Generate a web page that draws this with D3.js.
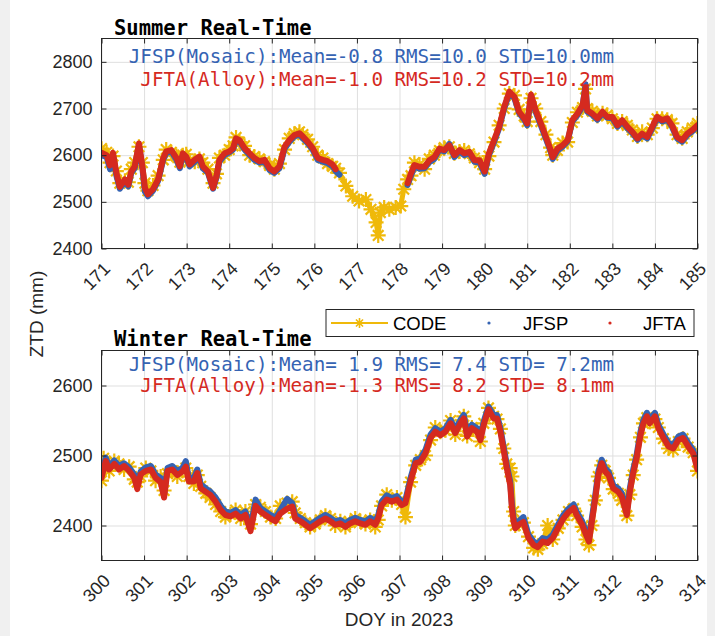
<!DOCTYPE html>
<html>
<head>
<meta charset="utf-8">
<script src="https://cdn.jsdelivr.net/npm/d3@7"></script>
<style>
  body { margin: 0; background: #f0f0f0; }
  svg { display: block; }
</style>
</head>
<body>
<script>
// ---- data (ZTD in mm, time in day of year) ----
var summerDays = [171.0,171.12,171.2,171.27,171.35,171.43,171.55,171.63,171.7,171.78,171.88,171.96,
  172.02,172.09,172.21,172.33,172.45,172.52,172.64,172.76,172.84,172.91,172.99,173.07,173.19,173.3,
  173.38,173.5,173.62,173.7,173.77,173.89,174.0,174.09,174.16,174.24,174.36,174.48,174.59,174.71,
  174.83,174.95,175.06,175.18,175.3,175.41,175.53,175.65,175.73,175.84,175.96,176.08,176.2,176.31,
  176.43,176.5,176.59,176.74,176.9,177.05,177.21,177.33,177.45,177.5,177.55,177.64,177.76,177.91,
  178.03,178.1,178.19,178.27,178.35,178.47,178.59,178.7,178.82,178.94,179.05,179.17,179.29,179.41,
  179.52,179.64,179.76,179.88,180.0,180.1,180.22,180.34,180.46,180.58,180.7,180.81,180.93,181.0,
  181.09,181.2,181.32,181.44,181.55,181.6,181.71,181.83,181.95,182.06,182.18,182.3,182.37,182.41,
  182.53,182.65,182.77,182.88,183.0,183.12,183.23,183.35,183.47,183.59,183.7,183.82,183.94,184.05,
  184.17,184.29,184.4,184.52,184.64,184.76,184.88,185.0];

var summerCode = [2614,2606,2584,2598,2566,2540,2545,2542,2570,2584,2618,2584,2540,2524,2535,2556,
  2590,2612,2606,2598,2585,2600,2602,2588,2586,2592,2584,2570,2540,2560,2594,2600,2612,2620,2638,
  2628,2620,2600,2597,2592,2586,2578,2570,2582,2612,2636,2646,2650,2644,2634,2618,2600,2594,2582,
  2576,2572,2562,2534,2512,2502,2505,2484,2456,2428,2477,2488,2484,2488,2491,2527,2548,2556,2584,
  2580,2570,2592,2600,2610,2616,2618,2604,2608,2610,2603,2594,2584,2570,2598,2628,2664,2700,2732,
  2728,2698,2684,2672,2722,2700,2672,2644,2616,2600,2610,2626,2628,2670,2692,2702,2742,2700,2694,
  2684,2690,2686,2678,2668,2672,2664,2654,2640,2650,2644,2658,2678,2678,2676,2668,2644,2636,2650,
  2658,2668];

var summerJfsp = [2600,2596,2570,2600,2556,2528,2544,2533,2562,2572,2622,2572,2522,2512,2524,2545,
  2590,2604,2608,2590,2572,2600,2594,2576,2586,2594,2572,2562,2528,2552,2586,2600,2606,2612,2633,
  2630,2612,2600,2590,2584,2586,2568,2562,2572,2614,2628,2640,2644,2636,2626,2612,2590,2586,2583,
  2576,2566,2558,null,null,null,null,null,null,null,null,null,null,null,null,null,2536,2556,2575,
  2571,2572,2585,2592,2612,2608,2624,2596,2608,2600,2604,2586,2584,2560,2600,2628,2658,2700,2733,
  2722,2690,2676,2664,2727,2692,2664,2635,2608,2592,2610,2618,2630,2672,2686,2704,2752,2693,2686,
  2676,2690,2680,2679,2661,2672,2658,2647,2633,2643,2636,2658,2679,2672,2676,2661,2636,2629,2643,
  2651,2661];

var summerJfta = [2605,2600,2578,2605,2562,2532,2548,2537,2565,2576,2625,2576,2530,2516,2527,2548,
  2594,2608,2611,2594,2576,2604,2597,2580,2590,2597,2576,2565,2530,2555,2590,2604,2608,2615,2636,
  2632,2615,2604,2594,2587,2590,2572,2565,2576,2618,2632,2643,2647,2640,2629,2615,2594,2590,2587,
  2580,2570,null,null,null,null,null,null,null,null,null,null,null,null,null,null,2540,2561,2579,
  2575,2575,2589,2596,2614,2611,2621,2600,2611,2604,2607,2589,2589,2565,2604,2632,2661,2704,2736,
  2725,2693,2679,2668,2730,2696,2668,2639,2611,2596,2614,2621,2632,2675,2689,2707,2745,2696,2689,
  2679,2693,2682,2682,2664,2675,2661,2650,2636,2646,2639,2661,2682,2675,2679,2664,2639,2632,2646,
  2654,2664];

var winterDays = [300.0,300.05,300.1,300.18,300.3,300.41,300.53,300.65,300.77,300.84,300.92,301.04,
  301.16,301.27,301.39,301.47,301.55,301.66,301.78,301.9,301.98,302.05,302.17,302.25,302.33,302.45,
  302.55,302.68,302.8,302.91,303.03,303.15,303.27,303.38,303.5,303.62,303.73,303.85,303.97,304.09,
  304.2,304.36,304.48,304.55,304.67,304.79,304.9,305.02,305.14,305.26,305.38,305.49,305.61,305.73,
  305.84,305.96,306.08,306.2,306.31,306.43,306.5,306.58,306.7,306.82,306.94,307.05,307.14,307.26,
  307.38,307.49,307.61,307.73,307.84,307.96,308.08,308.2,308.31,308.43,308.51,308.59,308.7,308.82,
  308.9,308.98,309.09,309.21,309.29,309.37,309.45,309.52,309.6,309.64,309.68,309.72,309.8,309.91,
  310.03,310.15,310.25,310.36,310.48,310.6,310.73,310.84,310.97,311.09,311.16,311.29,311.38,311.45,
  311.52,311.6,311.67,311.75,311.83,311.91,312.02,312.14,312.22,312.34,312.41,312.49,312.57,312.66,
  312.73,312.81,312.88,313.0,313.08,313.2,313.32,313.43,313.55,313.66,313.78,313.9,314.0];

var winterCode = [2464,2496,2490,2478,2492,2488,2480,2484,2466,2462,2470,2482,2478,2464,2470,2450,
  2474,2478,2470,2478,2482,2470,2460,2472,2456,2446,2440,2430,2420,2412,2416,2422,2410,2420,2402,
  2430,2426,2420,2412,2410,2428,2432,2434,2418,2410,2404,2398,2402,2408,2414,2410,2400,2406,2398,
  2404,2410,2406,2402,2408,2398,2408,2428,2444,2436,2440,2430,2412,2462,2486,2494,2500,2522,2540,
  2534,2536,2550,2530,2544,2556,2528,2540,2536,2520,2546,2568,2556,2552,2538,2510,2488,2482,2470,
  2420,2400,2402,2404,2384,2368,2366,2374,2400,2380,2396,2408,2420,2424,2414,2398,2380,2372,2400,
  2436,2470,2486,2478,2468,2452,2446,2436,2414,2444,2472,2494,2526,2546,2554,2548,2552,2540,2524,
  2510,2508,2520,2524,2512,2504,2478];

var winterJfsp = [2472,2485,2497,2484,2493,2485,2489,2483,2473,2458,2477,2483,2485,2473,2468,2446,
  2482,2485,2478,2482,2492,2468,2468,2480,2459,2453,2449,2440,2428,2420,2418,2422,2415,2420,2398,
  2437,2425,2420,2415,2411,2422,2438,2432,2415,2411,2406,2401,2406,2411,2415,2411,2406,2408,2403,
  2408,2411,2408,2406,2411,2406,2415,2434,2443,2439,2442,2434,2437,2468,2494,2496,2508,2530,2539,
  2534,2539,2551,2537,2551,2558,2532,2544,2539,2527,2549,2570,2558,2558,2539,2511,2487,2463,2430,
  2411,2402,2406,2412,2387,2377,2374,2382,2380,2387,2402,2414,2424,2430,2420,2406,2392,2382,2411,
  2444,2477,2494,2482,2477,2458,2453,2446,2420,2453,2480,2501,2534,2551,2561,2551,2561,2544,2530,
  2518,2515,2527,2530,2518,2508,2485];

var winterJfta = [2468,2480,2492,2480,2488,2480,2485,2478,2468,2452,2473,2478,2480,2468,2462,2440,
  2478,2480,2472,2477,2484,2463,2463,2475,2453,2448,2444,2434,2422,2415,2413,2417,2410,2415,2392,
  2428,2420,2415,2410,2406,2417,2424,2427,2410,2406,2401,2396,2401,2406,2410,2406,2401,2403,2398,
  2403,2406,2403,2401,2406,2401,2410,2429,2437,2434,2437,2429,2432,2463,2489,2491,2503,2525,2534,
  2529,2534,2546,2532,2546,2553,2527,2539,2534,2522,2544,2566,2553,2553,2534,2506,2482,2458,2425,
  2406,2396,2401,2405,2382,2372,2369,2377,2375,2382,2397,2409,2419,2425,2415,2401,2387,2377,2406,
  2439,2472,2489,2477,2472,2453,2448,2441,2415,2448,2475,2496,2529,2546,2556,2546,2556,2539,2525,
  2513,2510,2522,2525,2513,2503,2480];

var summerTicksY = [2400, 2500, 2600, 2700, 2800];
var winterTicksY = [2400, 2500, 2600];
var summerStats = ["JFSP(Mosaic):Mean=-0.8 RMS=10.0 STD=10.0mm", "JFTA(Alloy):Mean=-1.0 RMS=10.2 STD=10.2mm"];
var winterStats = ["JFSP(Mosaic):Mean= 1.9 RMS= 7.4 STD= 7.2mm", "JFTA(Alloy):Mean=-1.3 RMS= 8.2 STD= 8.1mm"];
var legendLabels = ["CODE", "JFSP", "JFTA"];

// ---- look ----
var svgWidth = 715, svgHeight = 636;
var plotLeft = 101.5, plotRight = 697.5;
var codeColor = "#efb90a", jfspColor = "#3563b3", jftaColor = "#d52a1f";
var axisColor = "#262626", gridColor = "#dfdfdf";
var sansFont = "'Liberation Sans', Arial, Helvetica, sans-serif";
var monoFont = "'DejaVu Sans Mono', monospace";

var svg = d3.select("body")
            .append("svg")
            .attr("width", svgWidth)
            .attr("height", svgHeight);

// white figure area, grey window border at the sides
svg.append("rect")
   .attr("x", 10).attr("y", 0)
   .attr("width", 697).attr("height", svgHeight)
   .attr("fill", "#ffffff");

// MATLAB style '*' marker
function asteriskPath(r) {
  var a = r * 0.707;
  return "M" + (-r) + ",0H" + r + "M0," + (-r) + "V" + r +
         "M" + (-a) + "," + (-a) + "L" + a + "," + a +
         "M" + (-a) + "," + a + "L" + a + "," + (-a);
}

function drawPanel(p) {
  var first = p.days[0], last = p.days[p.days.length - 1];
  var x = d3.scaleLinear().domain([first, last]).range([plotLeft, plotRight]);
  var y = d3.scaleLinear().domain(p.yDomain).range([p.bottom, p.top]);
  var w = plotRight - plotLeft, h = p.bottom - p.top;
  var xTicks = d3.range(first, last + 1);

  var g = svg.append("g");

  g.append("clipPath").attr("id", "clip-" + p.name)
   .append("rect")
   .attr("x", plotLeft).attr("y", p.top)
   .attr("width", w).attr("height", h);

  // grid lines
  var gx = g.append("g")
            .attr("transform", "translate(0," + p.bottom + ")")
            .call(d3.axisBottom(x).tickValues(xTicks).tickSize(-h).tickFormat(""));
  var gy = g.append("g")
            .attr("transform", "translate(" + plotLeft + ",0)")
            .call(d3.axisLeft(y).tickValues(p.yTicks).tickSize(-w).tickFormat(""));
  [gx, gy].forEach(function(s) {
    s.select(".domain").remove();
    s.selectAll("line").attr("stroke", gridColor).attr("stroke-width", 1);
  });

  // series
  var rows = p.days.map(function(d, i) {
    return { day: d, code: p.code[i], jfsp: p.jfsp[i], jfta: p.jfta[i] };
  });
  var plot = g.append("g").attr("clip-path", "url(#clip-" + p.name + ")");

  function lineFor(key) {
    return d3.line()
             .defined(function(d) { return d[key] != null; })
             .x(function(d) { return x(d.day); })
             .y(function(d) { return y(d[key]); });
  }

  plot.append("path").datum(rows)
      .attr("d", lineFor("code"))
      .attr("fill", "none").attr("stroke", codeColor)
      .attr("stroke-width", 5).attr("stroke-linejoin", "round");

  plot.selectAll(".code-mark")
      .data(rows)
      .enter()
      .append("path")
      .attr("class", "code-mark")
      .attr("transform", function(d) { return "translate(" + x(d.day) + "," + y(d.code) + ")"; })
      .attr("d", asteriskPath(7.5))
      .attr("fill", "none").attr("stroke", codeColor).attr("stroke-width", 2.2);

  plot.append("path").datum(rows)
      .attr("d", lineFor("jfsp"))
      .attr("fill", "none").attr("stroke", jfspColor)
      .attr("stroke-width", 6).attr("stroke-linejoin", "round").attr("stroke-linecap", "round");

  plot.append("path").datum(rows)
      .attr("d", lineFor("jfta"))
      .attr("fill", "none").attr("stroke", jftaColor)
      .attr("stroke-width", 6).attr("stroke-linejoin", "round").attr("stroke-linecap", "round");

  // axes with inward ticks on all four sides
  var bottomAxis = g.append("g")
                    .attr("transform", "translate(0," + p.bottom + ")")
                    .call(d3.axisBottom(x).tickValues(xTicks).tickSize(-5).tickSizeOuter(0)
                          .tickFormat(d3.format("d")));
  bottomAxis.selectAll("text")
            .attr("x", 0).attr("y", 0).attr("dy", "0.35em")
            .attr("transform", "translate(5,17) rotate(-45)")
            .attr("text-anchor", "end");

  var topAxis = g.append("g")
                 .attr("transform", "translate(0," + p.top + ")")
                 .call(d3.axisTop(x).tickValues(xTicks).tickSize(-5).tickSizeOuter(0).tickFormat(""));

  var leftAxis = g.append("g")
                  .attr("transform", "translate(" + plotLeft + ",0)")
                  .call(d3.axisLeft(y).tickValues(p.yTicks).tickSize(-5).tickSizeOuter(0)
                        .tickPadding(9).tickFormat(d3.format("d")));

  var rightAxis = g.append("g")
                   .attr("transform", "translate(" + plotRight + ",0)")
                   .call(d3.axisRight(y).tickValues(p.yTicks).tickSize(-5).tickSizeOuter(0).tickFormat(""));

  [bottomAxis, topAxis, leftAxis, rightAxis].forEach(function(s) {
    s.attr("font-family", sansFont).attr("font-size", 18);
    s.select(".domain").remove();
    s.selectAll("line").attr("stroke", axisColor);
    s.selectAll("text").attr("fill", axisColor);
  });

  g.append("rect")
   .attr("x", plotLeft).attr("y", p.top)
   .attr("width", w).attr("height", h)
   .attr("fill", "none").attr("stroke", axisColor).attr("stroke-width", 1);

  // title and statistics
  g.append("text")
   .attr("x", 114).attr("y", p.titleY)
   .attr("font-family", monoFont).attr("font-weight", "bold").attr("font-size", 20.5)
   .attr("fill", "#000")
   .text(p.title);

  g.selectAll(".stat")
   .data(p.stats)
   .enter()
   .append("text")
   .attr("class", "stat")
   .attr("x", 614)
   .attr("y", function(d, i) { return p.statsY[i]; })
   .attr("text-anchor", "end")
   .attr("font-family", monoFont).attr("font-size", 19.2)
   .attr("fill", function(d, i) { return i === 0 ? jfspColor : jftaColor; })
   .style("white-space", "pre")
   .attr("xml:space", "preserve")
   .text(function(d) { return d; });
}

drawPanel({
  name: "summer", days: summerDays, code: summerCode, jfsp: summerJfsp, jfta: summerJfta,
  top: 38.5, bottom: 248.5, yDomain: [2400, 2850], yTicks: summerTicksY,
  title: "Summer Real-Time", titleY: 35, stats: summerStats, statsY: [63, 86]
});

drawPanel({
  name: "winter", days: winterDays, code: winterCode, jfsp: winterJfsp, jfta: winterJfta,
  top: 350.5, bottom: 560.5, yDomain: [2350, 2650], yTicks: winterTicksY,
  title: "Winter Real-Time", titleY: 346, stats: winterStats, statsY: [371, 392]
});

// shared axis labels
svg.append("text")
   .attr("transform", "translate(43,314) rotate(-90)")
   .attr("text-anchor", "middle")
   .attr("font-family", sansFont).attr("font-size", 19)
   .attr("fill", axisColor)
   .text("ZTD (mm)");

svg.append("text")
   .attr("x", 399).attr("y", 626)
   .attr("text-anchor", "middle")
   .attr("font-family", sansFont).attr("font-size", 19)
   .attr("fill", axisColor)
   .text("DOY in 2023");

// legend
var legend = svg.append("g").attr("transform", "translate(326,309.5)");
legend.append("rect")
      .attr("width", 368).attr("height", 27)
      .attr("fill", "#fff").attr("stroke", axisColor).attr("stroke-width", 1);
legend.append("line")
      .attr("x1", 5).attr("x2", 62).attr("y1", 13.5).attr("y2", 13.5)
      .attr("stroke", codeColor).attr("stroke-width", 2);
legend.append("path")
      .attr("transform", "translate(33.5,13.5)")
      .attr("d", asteriskPath(5))
      .attr("fill", "none").attr("stroke", codeColor).attr("stroke-width", 1.6);
legend.append("circle").attr("cx", 163).attr("cy", 13.5).attr("r", 1.6).attr("fill", jfspColor);
legend.append("circle").attr("cx", 284).attr("cy", 13.5).attr("r", 1.6).attr("fill", jftaColor);
legend.selectAll(".lab")
      .data(legendLabels)
      .enter()
      .append("text")
      .attr("class", "lab")
      .attr("x", function(d, i) { return [67, 197, 317][i]; })
      .attr("y", 20)
      .attr("font-family", sansFont).attr("font-size", 18.5)
      .attr("fill", "#000")
      .text(function(d) { return d; });
</script>
</body>
</html>
